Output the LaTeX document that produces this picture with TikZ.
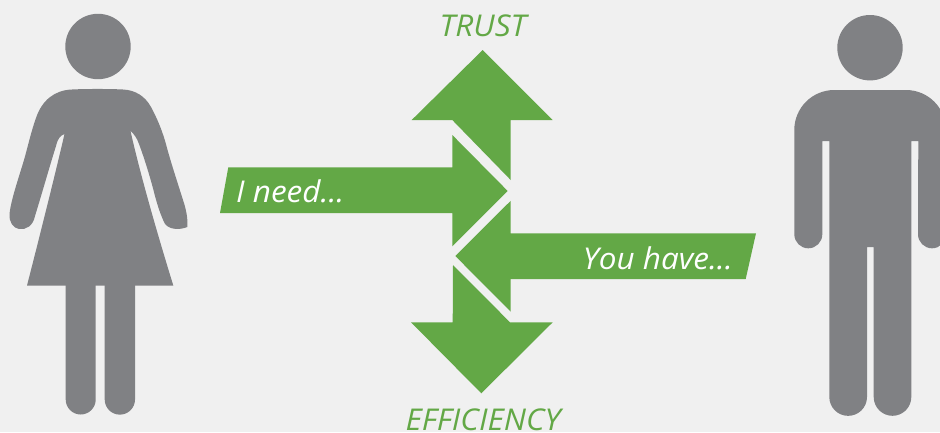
\documentclass[tikz,border=0pt]{standalone}
\usepackage{fontspec}
\setmainfont[FakeStretch=1.05]{Open Sans}
\definecolor{arrowgreen}{HTML}{63A846}
\definecolor{figuregray}{HTML}{808184}
\definecolor{backgray}{HTML}{F0F0F0}
\begin{document}
\begin{tikzpicture}[x=1pt, y=-1pt,
		arrowpart/.style={fill=arrowgreen},
		figurepart/.style={fill=figuregray},
		axislabel/.style={text=arrowgreen, font=\fontsize{30}{30}\selectfont\itshape, inner sep=0pt, anchor=base},
		inlabel/.style={text=white, font=\fontsize{30}{30}\selectfont\itshape, inner sep=0pt}]
	\fill[backgray] (0,0) rectangle (940,432);
	\useasboundingbox (0,0) rectangle (940,432);
	
	% Woman
	\fill[figurepart] (98,46.5) circle (32.7);
	\fill[figurepart] (72,89.5) .. controls (85,88.8) and (110,88.8) .. (123,89.5)
		.. controls (135,90) and (145,96) .. (151,107)
		.. controls (157,118) and (163,132) .. (167,148)
		.. controls (172,166) and (178,184) .. (183,200)
		.. controls (186,209) and (188,218) .. (187.3,227)
		.. controls (180,230) and (170,230) .. (165,224)
		.. controls (161,216) and (158,207) .. (155,196)
		.. controls (151,180) and (145,160) .. (139,144)
		.. controls (137,138) and (134,134) .. (130.5,131)
		.. controls (137,160) and (150,210) .. (173.3,285.5)
		-- (27,285.5)
		.. controls (40,235) and (55,175) .. (64.5,134)
		.. controls (60,136) and (58,138) .. (56,146)
		.. controls (50,165) and (43,190) .. (35,216)
		.. controls (33,226) and (26,230) .. (19,229)
		.. controls (13,228) and (9,222) .. (9.5,214)
		.. controls (11,200) and (18,180) .. (24,160)
		.. controls (28,146) and (31,132) .. (36,118)
		.. controls (42,100) and (55,90) .. (72,89.5) -- cycle;
	\fill[figurepart] (65.7,280) -- (95.7,280) -- (95.7,399.5) arc[start angle=0, end angle=180, radius=15] -- cycle;
	\fill[figurepart] (104.7,280) -- (135,280) -- (135,399.5) arc[start angle=0, end angle=180, radius=15.15] -- cycle;
	
	% Man
	\fill[figurepart] (870,47.7) circle (32.7);
	\fill[figurepart] (834,90) -- (906,90) arc[start angle=-90, end angle=0, radius=40]
		-- (946,234.3) arc[start angle=0, end angle=180, radius=14]
		-- (918.3,141) -- (911.3,141) -- (911.3,397)
		arc[start angle=0, end angle=180, radius=18.8]
		-- (873.7,247) -- (867,247) -- (867,397)
		arc[start angle=0, end angle=180, radius=18.85]
		-- (829.3,141) -- (822.3,141) -- (822.3,234.3)
		arc[start angle=0, end angle=180, radius=14]
		-- (794.3,130) arc[start angle=180, end angle=270, radius=40] -- cycle;
	
	% Four arrows
	\fill[arrowpart] (482.7,50) -- (552.7,120) -- (510.7,120) -- (510.7,180) -- (452.3,120) -- (411.7,120) -- cycle;
	\fill[arrowpart] (220,213) -- (228.3,167.3) -- (452.3,167.3) -- (452.3,135) -- (507.7,191) -- (452.3,246.4) -- (452.3,213) -- cycle;
	\fill[arrowpart] (756,233.3) -- (745.7,279) -- (510.7,279) -- (510.7,311.7) -- (455.3,256) -- (510.7,200.8) -- (510.7,233.3) -- cycle;
	\fill[arrowpart] (481.3,393.3) -- (411,322.3) -- (452.7,322.3) -- (453,265) -- (510,322.3) -- (552.7,322.3) -- cycle;
	
	% Labels
	\node[axislabel] (trust) at (483,36) {TRUST};
	\node[axislabel] (efficiency) at (483,430) {EFFICIENCY};
	\node[inlabel, anchor=base west] (need) at (236,202) {I need...};
	\node[inlabel, anchor=base east] (have) at (733,269) {You have...};
\end{tikzpicture}
\end{document}
